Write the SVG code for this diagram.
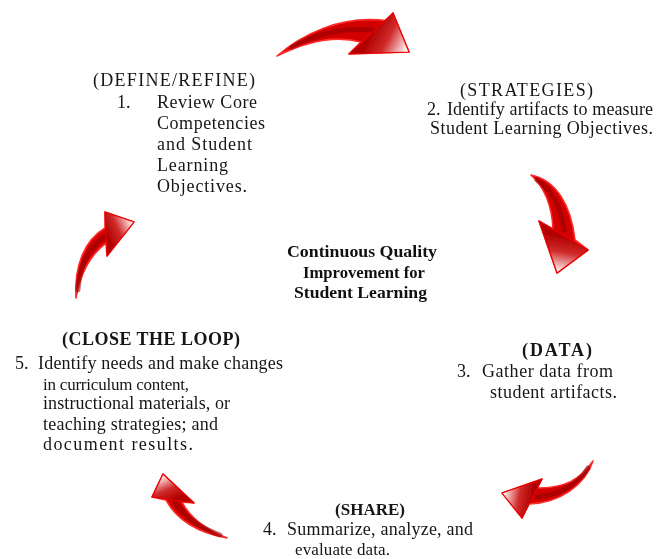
<svg xmlns="http://www.w3.org/2000/svg" width="666" height="559" viewBox="0 0 666 559">
<style>
.t{font-family:"Liberation Serif","Times New Roman",serif;font-size:18px;fill:#161616}
.s{font-size:17px}
.b{font-weight:bold}
.c{font-family:"Liberation Serif","Times New Roman",serif;font-size:17px;font-weight:bold;fill:#111}
.body{fill:#d30000;stroke:#ff2a2a;stroke-width:1.6;stroke-linejoin:round}
.core{fill:none;stroke:#8e0000;stroke-width:5;stroke-linecap:round;opacity:.55}
.head{stroke:#e80000;stroke-width:1.2;stroke-linejoin:round}
</style>
<defs>
<filter id="soft" x="-10%" y="-10%" width="120%" height="120%"><feGaussianBlur stdDeviation="0.5"/></filter>
<linearGradient id="hA" gradientUnits="userSpaceOnUse" x1="372" y1="32" x2="406" y2="50"><stop offset="0" stop-color="#b00000"/><stop offset="0.45" stop-color="#d02a2a"/><stop offset="1" stop-color="#fff2f2"/></linearGradient>
<linearGradient id="hB" gradientUnits="userSpaceOnUse" x1="563" y1="236" x2="557" y2="271"><stop offset="0" stop-color="#b00000"/><stop offset="0.45" stop-color="#d02a2a"/><stop offset="1" stop-color="#fff2f2"/></linearGradient>
<linearGradient id="hC" gradientUnits="userSpaceOnUse" x1="532" y1="498" x2="504" y2="493"><stop offset="0" stop-color="#b00000"/><stop offset="0.45" stop-color="#d02a2a"/><stop offset="1" stop-color="#fff2f2"/></linearGradient>
<linearGradient id="hD" gradientUnits="userSpaceOnUse" x1="173" y1="500" x2="163" y2="476"><stop offset="0" stop-color="#b00000"/><stop offset="0.45" stop-color="#d02a2a"/><stop offset="1" stop-color="#fff2f2"/></linearGradient>
<linearGradient id="hE" gradientUnits="userSpaceOnUse" x1="106" y1="234" x2="132" y2="222"><stop offset="0" stop-color="#b00000"/><stop offset="0.45" stop-color="#d02a2a"/><stop offset="1" stop-color="#fff2f2"/></linearGradient>
</defs>
<rect width="666" height="559" fill="#fff"/>
<g id="connectors" filter="url(#soft)">
<g id="arrow-1-2">
<path class="body" d="M277,56 C300,36 340,14 388,21 L393,13 L409,52 L349,54 L361,42 C335,35 305,42 277,56 Z"/>
<path class="core" d="M292,47 C320,32 350,27 378,31"/>
<path class="head" fill="url(#hA)" d="M393,13 L409,52 L349,54 Z"/>
</g>
<g id="arrow-2-3">
<path class="body" d="M531,175 C556,180 571,205 575,240 L588,250 L557,273 L539,221 L553,229 C552,205 545,188 531,175 Z"/>
<path class="core" d="M537,180 C552,190 561,207 564,230"/>
<path class="head" fill="url(#hB)" d="M539,221 L588,250 L557,273 Z"/>
</g>
<g id="arrow-3-4">
<path class="body" d="M593,461 C580,480 565,488 537,488 L542,479 L502,493 L522,518 L529,504 C560,503 585,485 593,461 Z"/>
<path class="core" d="M588,468 C577,485 560,495 537,497"/>
<path class="head" fill="url(#hC)" d="M542,479 L502,493 L522,518 Z"/>
</g>
<g id="arrow-4-5">
<path class="body" d="M227,538 C200,533 178,522 166,500 L152,497 L163,474 L194,503 L182,502 C190,518 205,529 227,538 Z"/>
<path class="core" d="M220,535 C200,528 185,517 175,502"/>
<path class="head" fill="url(#hD)" d="M152,497 L163,474 L194,503 Z"/>
</g>
<g id="arrow-5-1">
<path class="body" d="M76,298 C74,265 85,240 105,228 L105,212 L134,222 L107,256 L106,243 C90,255 80,275 76,298 Z"/>
<path class="core" d="M78,290 C79,268 88,249 104,237"/>
<path class="head" fill="url(#hE)" d="M105,212 L134,222 L107,256 Z"/>
</g>
</g>
<g id="node-define">
<text class="t" x="93" y="86" textLength="162" lengthAdjust="spacing">(DEFINE/REFINE)</text>
<text class="t" x="117" y="108">1.</text>
<text class="t" x="157" y="108" textLength="100" lengthAdjust="spacing">Review Core</text>
<text class="t" x="157" y="129" textLength="108" lengthAdjust="spacing">Competencies</text>
<text class="t" x="157" y="150" textLength="95" lengthAdjust="spacing">and Student</text>
<text class="t" x="157" y="171" textLength="71" lengthAdjust="spacing">Learning</text>
<text class="t" x="157" y="192" textLength="90" lengthAdjust="spacing">Objectives.</text>
</g>
<g id="node-strategies">
<text class="t" x="460" y="96" textLength="133" lengthAdjust="spacing">(STRATEGIES)</text>
<text class="t" x="427" y="115">2.</text>
<text class="t" x="447" y="115" textLength="206" lengthAdjust="spacing">Identify artifacts to measure</text>
<text class="t" x="430" y="134" textLength="223" lengthAdjust="spacing">Student Learning Objectives.</text>
</g>
<g id="node-center">
<text class="c" x="287" y="257" textLength="150" lengthAdjust="spacingAndGlyphs">Continuous Quality</text>
<text class="c" x="303" y="278" textLength="122" lengthAdjust="spacingAndGlyphs">Improvement for</text>
<text class="c" x="294" y="298" textLength="133" lengthAdjust="spacingAndGlyphs">Student Learning</text>
</g>
<g id="node-data">
<text class="t b" x="522" y="356" textLength="70" lengthAdjust="spacing">(DATA)</text>
<text class="t" x="457" y="377">3.</text>
<text class="t" x="482" y="377" textLength="131" lengthAdjust="spacing">Gather data from</text>
<text class="t" x="490" y="398" textLength="127" lengthAdjust="spacing">student artifacts.</text>
</g>
<g id="node-share">
<text class="t b s" x="335" y="515" textLength="70" lengthAdjust="spacing">(SHARE)</text>
<text class="t" x="263" y="535">4.</text>
<text class="t" x="287" y="535" textLength="186" lengthAdjust="spacing">Summarize, analyze, and</text>
<text class="t s" x="295" y="555" textLength="95" lengthAdjust="spacing">evaluate data.</text>
</g>
<g id="node-close">
<text class="t b" x="62" y="345" textLength="178" lengthAdjust="spacing">(CLOSE THE LOOP)</text>
<text class="t" x="15" y="369">5.</text>
<text class="t" x="38" y="369" textLength="245" lengthAdjust="spacing">Identify needs and make changes</text>
<text class="t s" x="43" y="390" textLength="146" lengthAdjust="spacing">in curriculum content,</text>
<text class="t" x="43" y="409" textLength="187" lengthAdjust="spacing">instructional materials, or</text>
<text class="t" x="43" y="430" textLength="175" lengthAdjust="spacing">teaching strategies; and</text>
<text class="t" x="43" y="450" textLength="150" lengthAdjust="spacing">document results.</text>
</g>
</svg>
